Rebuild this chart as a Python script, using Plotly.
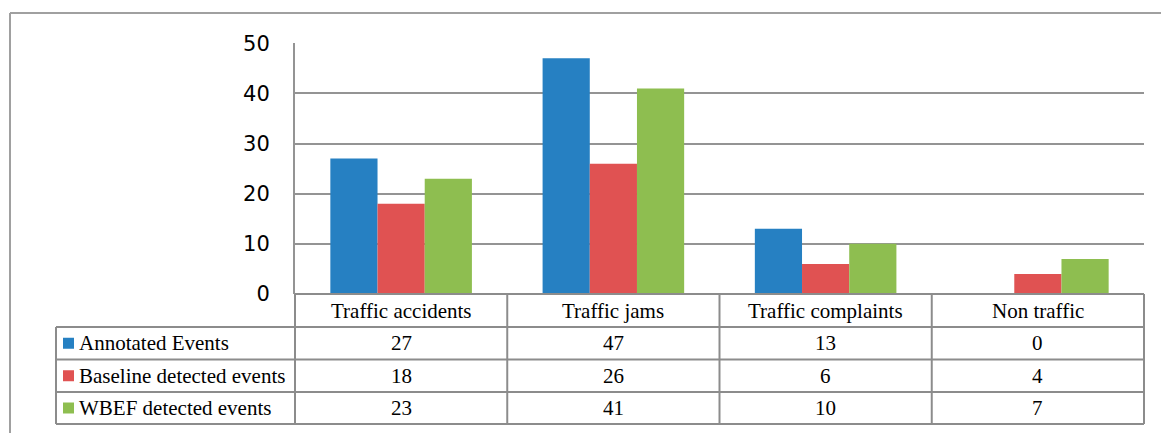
import plotly.graph_objects as go

categories = ["Traffic accidents", "Traffic jams", "Traffic complaints", "Non traffic"]
series_names = ["Annotated Events", "Baseline detected events", "WBEF detected events"]
annotated = [27, 47, 13, 0]
baseline = [18, 26, 6, 4]
wbef = [23, 41, 10, 7]
y_ticks = [0, 10, 20, 30, 40, 50]

colors = ["#2680C2", "#E05252", "#8EBE50"]
series_values = [annotated, baseline, wbef]

W, H = 1161, 433
def px(x):
    return x / W
def py(y):
    return 1 - y / H

x_left, x_right = 295, 1144
y_zero, y_top = 294, 43.3
row_lines = [294, 327, 359.5, 392, 424]
table_left = 56
grid_col = "#949494"
tab_col = "#8C8C8C"

fig = go.Figure()
for name, vals, c in zip(series_names, series_values, colors):
    fig.add_trace(go.Bar(x=categories, y=vals, name=name,
                         marker=dict(color=c, line=dict(width=0))))

shapes = []
# outer frame
shapes.append(dict(type="line", xref="paper", yref="paper", x0=px(10), x1=px(10), y0=py(13), y1=py(440),
                   line=dict(color="#A0A0A0", width=2)))
shapes.append(dict(type="line", xref="paper", yref="paper", x0=px(10), x1=px(1170), y0=py(13), y1=py(13),
                   line=dict(color="#A0A0A0", width=2)))
# table vertical lines at category boundaries
n = len(categories)
for i in range(n + 1):
    xp = px(x_left) + i / n * (px(x_right) - px(x_left))
    shapes.append(dict(type="line", xref="paper", yref="paper", x0=xp, x1=xp,
                       y0=py(row_lines[0]), y1=py(row_lines[-1]), line=dict(color=tab_col, width=2)))
# left column vertical
shapes.append(dict(type="line", xref="paper", yref="paper", x0=px(table_left), x1=px(table_left),
                   y0=py(row_lines[1]), y1=py(row_lines[-1]), line=dict(color=tab_col, width=2)))
# horizontal table lines
for k, yl in enumerate(row_lines):
    x0 = px(x_left) if k == 0 else px(table_left)
    shapes.append(dict(type="line", xref="paper", yref="paper", x0=x0, x1=px(x_right),
                       y0=py(yl), y1=py(yl), line=dict(color=tab_col, width=2)))

annotations = []
font_tab = dict(family="Liberation Serif, Times New Roman, serif", size=21, color="#000000")
hdr_c = (row_lines[0] + row_lines[1]) / 2
for cat in categories:
    annotations.append(dict(x=cat, xref="x", y=py(hdr_c), yref="paper", text=cat, showarrow=False,
                            xanchor="center", yanchor="middle", font=font_tab))
for r, (name, vals, c) in enumerate(zip(series_names, series_values, colors)):
    yc = (row_lines[r + 1] + row_lines[r + 2]) / 2
    shapes.append(dict(type="rect", xref="paper", yref="paper", x0=px(63), x1=px(74),
                       y0=py(yc + 5.5), y1=py(yc - 5.5), fillcolor=c, line=dict(width=0)))
    annotations.append(dict(x=px(77), xref="paper", y=py(yc), yref="paper", text=name, showarrow=False,
                            xanchor="left", yanchor="middle", font=font_tab))
    for cat, v in zip(categories, vals):
        annotations.append(dict(x=cat, xref="x", y=py(yc), yref="paper", text=str(v), showarrow=False,
                                xanchor="center", yanchor="middle", font=font_tab))

fig.update_layout(
    width=W, height=H, autosize=False,
    margin=dict(l=0, r=0, t=0, b=0, pad=0, autoexpand=False),
    paper_bgcolor="white", plot_bgcolor="white",
    barmode="group", bargap=0.333, bargroupgap=0,
    showlegend=False,
    xaxis=dict(domain=[px(x_left), px(x_right)], showticklabels=False, showgrid=False,
               zeroline=False, showline=False, ticks="", automargin=False),
    yaxis=dict(domain=[py(y_zero), py(y_top)], range=[0, 50], tickvals=y_ticks,
               showgrid=True, gridcolor=grid_col, gridwidth=2, zeroline=False,
               showline=True, linecolor=grid_col, linewidth=2, automargin=False,
               ticks="", ticklabelstandoff=19,
               tickfont=dict(family="DejaVu Sans, sans-serif", size=21, color="#000000")),
    shapes=shapes,
    annotations=annotations,
)

fig.write_html("out.html")
